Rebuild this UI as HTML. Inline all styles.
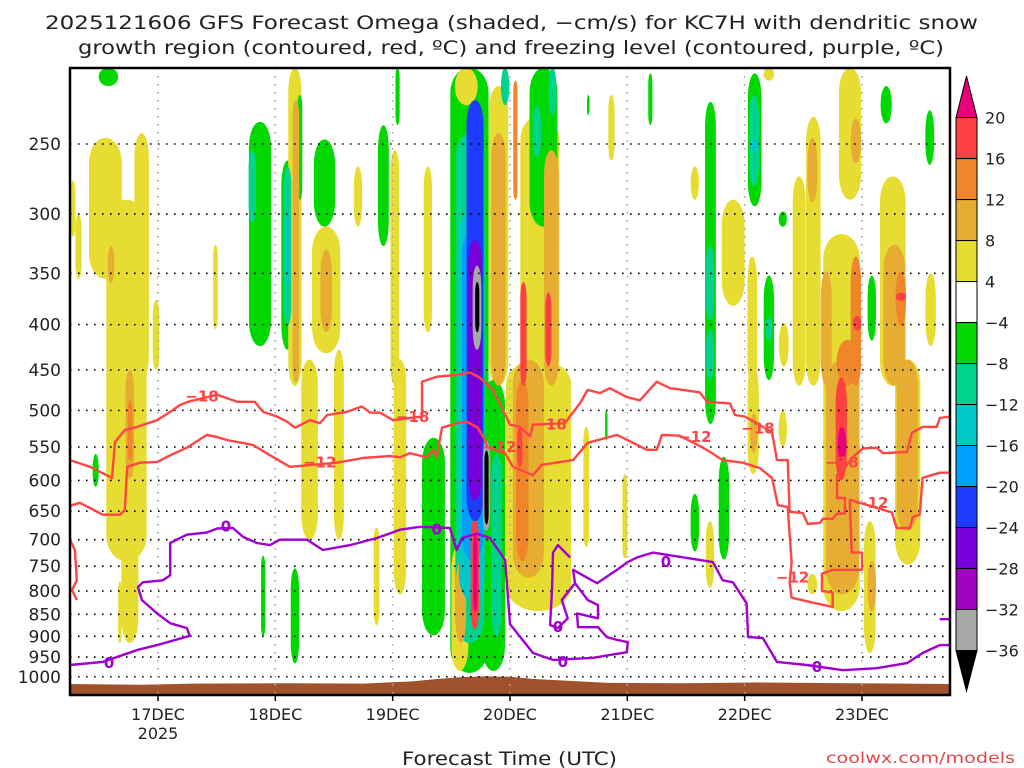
<!DOCTYPE html>
<html><head><meta charset="utf-8"><style>
html,body{margin:0;padding:0;background:#fff;}
svg{display:block;font-family:"DejaVu Sans","Liberation Sans",sans-serif;}
</style></head><body>
<svg id="chart" width="1024" height="768" viewBox="0 0 1024 768" xmlns="http://www.w3.org/2000/svg">
<rect width="1024" height="768" fill="#fff"/>
<text x="45" y="29" font-size="19" fill="#222" textLength="933" lengthAdjust="spacingAndGlyphs">2025121606 GFS Forecast Omega (shaded, −cm/s) for KC7H with dendritic snow</text>
<text x="78" y="54" font-size="19" fill="#222" textLength="866" lengthAdjust="spacingAndGlyphs">growth region (contoured, red, ºC) and freezing level (contoured, purple, ºC)</text>
<g id="shading"></g>
<g id="terrain"></g>
<g id="grid"></g>
<g id="contours"></g>
<g id="axes"></g>
<g id="colorbar"></g>
<text x="402" y="765" font-size="19" fill="#222" textLength="215" lengthAdjust="spacingAndGlyphs">Forecast Time (UTC)</text>
<text x="826" y="763" font-size="15.5" fill="#e04848" textLength="189" lengthAdjust="spacingAndGlyphs">coolwx.com/models</text>
</svg>
<script>
// ---- data ----
const pressureTicks=[250,300,350,400,450,500,550,600,650,700,750,800,850,900,950,1000];
const dayHours=[18,42,66,90,114,138,162];
const dayLabels=["17DEC","18DEC","19DEC","20DEC","21DEC","22DEC","23DEC"];
const cbarLevels=[20,16,12,8,4,-4,-8,-12,-16,-20,-24,-28,-32,-36];
// shaded omega blobs: [hourStart, hourEnd, pTop, pBottom, level]
const blobs=[
[3.3,11.2,246,355,4],[6.7,16.4,289,740,4],[12.9,16.4,243,462,4],[10.2,14.3,462,916,4],[7.6,9.2,326,359,8],
[11.2,13.3,450,597,8],[11.7,12.9,487,570,12],[1,2.5,300,355,4],[0,1.2,275,318,4],[5.5,10.2,205,215,-4],[16.8,18.4,375,450,4],
[29.2,30.3,325,405,4],[9.8,10.6,780,916,4],[4.5,6,560,610,-4],
[36.2,41.5,236,423,-4],[36.4,38.2,254,307,-8],[43,46,261,427,-4],[43.6,45.4,265,401,-8],[44,45,300,360,-12],[44.4,47.6,205,469,4],
[45.4,47,223,465,8],[46.4,47.6,220,289,-4],[49,55.8,310,431,4],[51,53.8,329,408,8],[47,51,438,700,4],
[53.8,56.2,427,700,4],[62,63.4,678,875,4],[66,69,438,807,4],[49.5,54.6,247,310,-4],[62.8,65.4,238,326,-4],
[57.9,59.9,265,310,4],[66.5,67.5,205,238,-4],[65.4,67.5,254,469,4],[72.2,74.2,265,408,4],[45,47,754,966,-4],[39,40,730,900,-4],
[71.6,77.1,537,898,-4],[77.1,86.3,205,990,-4],[78.3,85.3,243,916,-8],[79.1,85.3,298,820,-12],[79.8,84.9,313,740,-16],
[80.8,84.9,223,667,-20],[81.2,84.5,321,632,-24],[82.2,84.3,343,427,-32],[82.8,83.8,358,408,-36],
[84.3,86.1,541,684,-32],[84.7,85.7,555,673,-36],[85.3,90,215,469,4],[85.9,89.4,243,469,8],[78.3,83.8,205,226,4],
[88,90,205,226,-8],[77.7,81.8,708,985,4],[78.7,81.2,740,916,8],[81.8,83.8,662,884,16],[82.4,83.4,690,843,20],
[91.4,100.8,232,469,4],[96.7,100.2,254,469,8],[92,93.5,358,469,16],[97.1,98.6,368,446,16],[90.6,91.6,212,289,12],
[93.5,100.2,205,310,-4],[94.5,96.5,226,259,-8],[97.8,99.6,205,232,-8],[105.7,106.3,220,232,-4],[110,111.5,220,261,4],
[118.2,119.2,208,238,-4],[126.8,128.8,265,289,4],[129.7,132.3,224,518,-4],[129.9,131.9,326,395,-8],[129.9,131.9,405,462,-8],
[138.4,141.7,208,294,-4],[138.7,141.1,220,279,-8],[138.7,141.1,247,255,-12],[141.7,144.2,205,212,4],[132.9,138.4,289,381,4],
[138.4,140.7,335,469,4],[141.7,144.2,352,462,-4],[142.1,143.8,392,417,-8],[144.8,146.8,298,310,-4],[144.8,147.2,398,446,4],
[150.3,153.8,233,469,4],[150.7,153,246,291,8],[156.9,162.2,205,289,4],[159.5,162,234,263,8],[147.6,150.7,272,469,4],
[153.4,162.2,316,843,4],[153.4,156,348,469,8],[154,162,438,807,8],[159.5,162,335,469,12],[160,162,391,406,16],
[156.4,161.6,416,469,12],[156.4,159.1,459,600,16],[156.9,158.9,522,570,20],[163,165,352,417,-4],[165.6,168.3,215,237,-4],
[165.2,171.4,272,469,4],[166,171.2,325,469,8],[168.7,171.2,348,401,12],[168.7,171.2,368,376,16],[174.8,177.3,350,423,4],
[174.8,176.9,229,264,-4],[168.3,174.4,438,747,4],[168.7,173.8,438,684,8],[162.2,165,667,940,4],[163,165,740,843,8],
[132.5,135,564,737,-4],[126.8,128.8,621,722,-4],[129.9,131.9,667,794,4],[138.4,141.1,446,590,4],[139,140.7,504,559,8],
[144.8,146.8,500,550,4],[150.7,153,765,807,4],[156,158.9,754,843,4],[88,103.7,438,843,4],[90,97.5,438,773,8],
[91,94,462,740,12],[91.4,92.6,522,580,16],[104.9,106.3,522,713,4],[112.9,114.1,590,735,4],[109.4,110,500,541,-4],
[83.8,89.4,462,985,-4],[86,88.5,560,900,-8]
];
// surface (terrain) pressure vs hour
const terrainHours=[0,15,25,45,60,70,75,80,85,90,95,110,125,140,160,180];
const terrainP=[1019,1021,1018,1017,1018,1012,1006,1001,999,1000,1006,1016,1017,1015,1017,1019];
// contours: [hour, hPa]
const contourM18=[[0,569],[4.1,579],[8.6,596],[9.2,543],[11.2,526],[13.7,522],[17.8,513],[20.5,502],[22.5,493],[24.1,489],[30.1,480],[34.2,489],[37.8,489],[39.5,502],[42.3,508],[44.4,515],[46,523],[49.1,513],[51.1,517],[52.6,506],[56.6,502],[59.7,495],[61.4,503],[63.4,503],[66.1,513],[72,508],[72,464],[75,458],[79.1,456],[81.8,453],[83.8,459],[86.5,474],[87.9,491],[90,519],[92,522],[94.1,535],[94.7,519],[101.2,517],[104.3,491],[105.9,474],[108.4,478],[110.4,472],[113.9,483],[116.6,487],[120,464],[122.7,472],[128.8,477],[130.3,489],[135,491],[136,506],[138,508],[143.6,529],[144.6,569],[146.8,569],[147.2,651],[149.9,653],[150.9,672],[153.4,670],[154,663],[156,663],[156.9,654],[158.5,654],[158.5,628],[156.9,628],[156.9,592],[160.5,562],[162.2,552],[165,551],[166.3,559],[171.2,557],[172.2,530],[174.4,522],[177.3,522],[177.9,510],[180,508]];
const contourM12=[[0,641],[2,636],[6.7,656],[10.2,656],[11.2,648],[11.7,579],[14.3,573],[17.8,572],[20.5,562],[23.9,551],[28,533],[30.1,536],[32.1,540],[37.4,547],[40.9,562],[45,579],[54.6,573],[59.9,566],[65.4,563],[67.5,565],[69.5,559],[73,565],[74.2,554],[75,565],[76.1,523],[79.1,517],[81.2,515],[83.4,523],[84.9,540],[85.3,550],[89,559],[90.6,579],[94.7,592],[96.5,576],[102.9,569],[105.9,544],[111.9,533],[118,554],[120,554],[121.1,533],[124.7,534],[129.2,550],[130.9,557],[133.5,569],[137.6,573],[141.1,581],[143.6,596],[144.8,640],[146.8,643],[147.6,742],[147.2,782],[147.6,814],[151.3,823],[156,834],[156,803],[153.8,800],[153.8,765],[156,757],[162,757],[162,724],[159.9,724],[159.5,631],[168.1,652],[169.1,679],[171.8,679],[172.4,660],[173.8,656],[174.4,596],[177.9,588],[180,588]];
const contourM12b=[[0,700],[1,719],[1.4,778],[0.4,798],[1.4,819]];
const contour0=[[0,970],[6.7,962],[13.7,933],[17.8,921],[24.5,899],[23.9,881],[20.5,870],[17.8,848],[14.7,819],[13.9,792],[14.9,782],[19,778],[20.5,768],[20.5,706],[23.9,691],[28,687],[30.1,680],[33.3,679],[35.4,695],[38.2,706],[40.9,710],[42.9,700],[48.5,700],[51.7,719],[57.3,710],[62.8,697],[67.5,682],[71.6,677],[77.7,679],[79.1,719],[80.2,697],[83.2,689],[85.9,697],[89,738],[90,872],[92.6,909],[94.7,940],[98.8,957],[107,952],[113.9,938],[114.1,914],[112.1,909],[109.8,902],[108,879],[103.9,879],[103.7,848],[108,859],[108,830],[105.9,819],[103.3,784],[102.9,757],[107.8,784],[111.9,757],[113.9,743],[116,733],[119.2,724],[131.5,742],[133.5,778],[135.6,782],[138.4,826],[138.7,902],[141.7,904],[144.6,962],[150.7,970],[158.1,983],[165,978],[171.2,965],[174.4,940],[177.9,921],[180,921]];
const contour0b=[[102.3,733],[99.8,710],[98.8,724],[98.6,798],[98.2,874],[99.8,881],[101.8,859],[100.6,819],[103.3,784]];
const contour0c=[[177.9,861],[180,861]];
const labelsM18=[[27,482],[70.1,509],[98.2,519],[140.7,524],[157.9,573]];
const labelsM12=[[51.1,573],[87.9,550],[127.8,536],[147.8,772],[164,636]];
const labels0=[[8,965],[31.9,676],[75,682],[99.8,879],[100.8,962],[121.9,742],[152.8,975]];

// ---- scales ----
const X0=70,X1=950,Y0=68,Y1=695;
const xOf=h=>X0+h*(X1-X0)/180;
const yOf=p=>144+384.3*Math.log(p/250);
const NS="http://www.w3.org/2000/svg";
function mk(tag,attrs,parent){const e=document.createElementNS(NS,tag);for(const k in attrs)e.setAttribute(k,attrs[k]);parent.appendChild(e);return e;}
function colorFor(v){
 if(v>=20)return"#e8007a";if(v>=16)return"#ff4040";if(v>=12)return"#f0852a";if(v>=8)return"#e6ad32";if(v>=4)return"#e6dc32";
 if(v<=-36)return"#000";if(v<=-32)return"#a8a8a8";if(v<=-28)return"#a000c0";if(v<=-24)return"#7800d8";if(v<=-20)return"#1e3cff";
 if(v<=-16)return"#00a0ff";if(v<=-12)return"#00c8c8";if(v<=-8)return"#00d48c";return"#00d800";}

// shading
const sh=document.getElementById('shading');
const clip=mk('clipPath',{id:'plotclip'},sh);mk('rect',{x:X0,y:Y0,width:X1-X0,height:Y1-Y0},clip);
const sg=mk('g',{'clip-path':'url(#plotclip)'},sh);
blobs.map((b,i)=>[b,i]).sort((a,b)=>Math.abs(a[0][4])-Math.abs(b[0][4])||a[1]-b[1]).forEach(([b])=>{
 const xa=xOf(b[0]),xb=xOf(b[1]),cx=(xa+xb)/2,w=(xb-xa)*0.85,y=yOf(b[2]),h=yOf(b[3])-y;
 const r=mk('rect',{x:cx-w/2,y:y,width:w,height:h,rx:w/2,ry:Math.min(h/2,w*2.5,25),fill:colorFor(b[4])},sg);
 
 
});

// terrain
const tg=document.getElementById('terrain');
let td=`M${xOf(terrainHours[0])},${Y1}`;
terrainHours.forEach((h,i)=>{td+=` L${xOf(h)},${yOf(terrainP[i])}`;});
td+=` L${xOf(terrainHours[terrainHours.length-1])},${Y1} Z`;
const tp=mk('path',{d:td,fill:'#a0522d'},tg);



// grid
const gg=document.getElementById('grid');
pressureTicks.forEach(p=>{const l=mk('line',{x1:X0,x2:X1,y1:yOf(p),y2:yOf(p),stroke:'#000','stroke-width':1.6,'stroke-dasharray':'1.6,6.4'},gg);
 
 });
dayHours.forEach(h=>{const l=mk('line',{x1:xOf(h),x2:xOf(h),y1:Y0,y2:Y1,stroke:'#aaa','stroke-width':1.6,'stroke-dasharray':'1.6,6.4'},gg);
 
 });

// contours
const cg=document.getElementById('contours');
const cc=mk('g',{'clip-path':'url(#plotclip)'},cg);
function line(pts,color,name){const d=pts.map((p,i)=>(i?'L':'M')+xOf(p[0]).toFixed(1)+','+yOf(p[1]).toFixed(1)).join(' ');
 const e=mk('path',{d:d,fill:'none',stroke:color,'stroke-width':2.4,'stroke-linejoin':'round'},cc);
 
 }
line(contourM18,'#ff4545','contour-minus-18');
line(contourM12,'#ff4545','contour-minus-12');
line(contourM12b,'#ff4545','contour-minus-12-left');
line(contour0,'#a000d0','freezing-level-contour');
line(contour0b,'#a000d0','freezing-level-loop');
line(contour0c,'#a000d0','freezing-level-stub');
function labels(arr,txt,color,name){arr.forEach(p=>{const t=mk('text',{x:xOf(p[0]),y:yOf(p[1])+5,'text-anchor':'middle','font-size':15,'font-weight':'bold',fill:color},cc);t.textContent=txt;
 
 });}
labels(labelsM18,'−18','#ff4545','contour-label-minus-18');
labels(labelsM12,'−12','#ff4545','contour-label-minus-12');
labels(labels0,'0','#a000d0','contour-label-zero');

// axes
const ag=document.getElementById('axes');
const fr=mk('rect',{x:X0,y:Y0,width:X1-X0,height:Y1-Y0,fill:'none',stroke:'#000','stroke-width':2.5},ag);


pressureTicks.forEach(p=>{const t=mk('text',{x:61,y:yOf(p)+6,'text-anchor':'end','font-size':17,fill:'#222'},ag);t.textContent=p;
 
 });
dayHours.forEach((h,i)=>{mk('line',{x1:xOf(h),x2:xOf(h),y1:Y1,y2:Y1+6,stroke:'#000','stroke-width':1.5},ag);
 const t=mk('text',{x:xOf(h),y:720,'text-anchor':'middle','font-size':16,fill:'#222'},ag);t.textContent=dayLabels[i];
 
 });
const yr=mk('text',{x:xOf(18),y:739,'text-anchor':'middle','font-size':16,fill:'#222'},ag);yr.textContent='2025';



// colorbar
const cb=document.getElementById('colorbar');
const CX=956,CW=21,CT=117.6,CS=(650.5-117.6)/(cbarLevels.length-1);
const tri1=mk('polygon',{points:`${CX},${CT} ${CX+CW},${CT} ${CX+CW/2},76`,fill:'#e8007a',stroke:'#000','stroke-width':1},cb);


for(let i=0;i<cbarLevels.length-1;i++){
 const v=cbarLevels[i]>0?cbarLevels[i+1]:cbarLevels[i];
 const fill=(cbarLevels[i]===4)?'#fff':colorFor(v);
 const r=mk('rect',{x:CX,y:CT+i*CS,width:CW,height:CS,fill:fill,stroke:'#000','stroke-width':1},cb);
 
 }
const yb=CT+(cbarLevels.length-1)*CS;
const tri2=mk('polygon',{points:`${CX},${yb} ${CX+CW},${yb} ${CX+CW/2},691`,fill:'#000',stroke:'#000','stroke-width':1},cb);


cbarLevels.forEach((v,i)=>{const t=mk('text',{x:985,y:CT+i*CS+6,'font-size':16,fill:'#222'},cb);t.textContent=(v<0?'−':'')+Math.abs(v);
 
 });
</script>
</body></html>
